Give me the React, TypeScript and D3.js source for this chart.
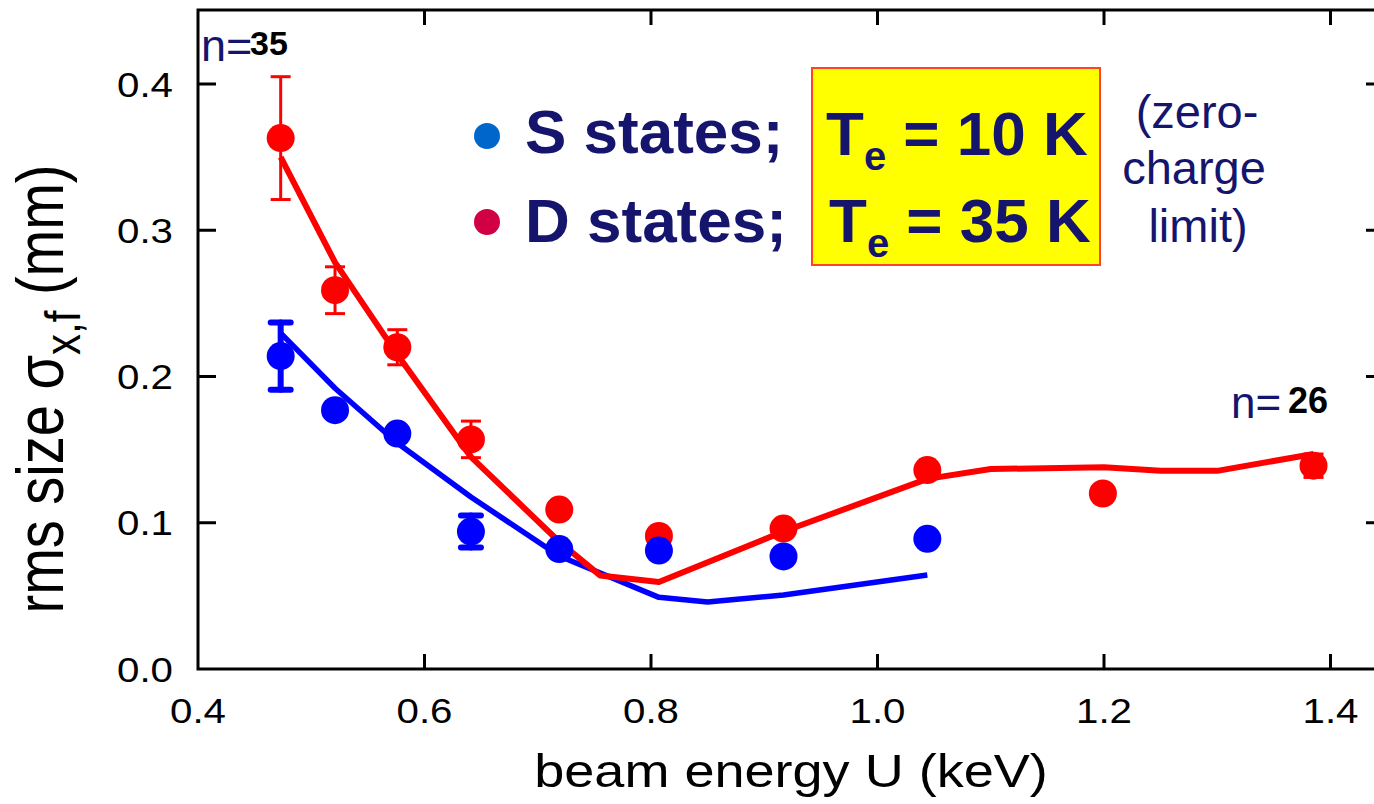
import React from "react";
import * as d3 from "d3";

// ---- data ----
const energyD = [0.473, 0.521, 0.576, 0.641, 0.719, 0.807, 0.917, 1.044, 1.199, 1.385];
const sizeD = [0.363, 0.259, 0.22, 0.157, 0.109, 0.091, 0.096, 0.136, 0.12, 0.139];
const errD = [0.042, 0.016, 0.012, 0.0125, 0, 0, 0, 0, 0, 0.008];

const energyS = [0.473, 0.521, 0.576, 0.641, 0.719, 0.807, 0.917, 1.044];
const sizeS = [0.214, 0.177, 0.161, 0.094, 0.082, 0.081, 0.077, 0.089];
const errS = [0.023, 0, 0, 0.011, 0, 0, 0, 0];

const modelEnergyD = [0.473, 0.521, 0.576, 0.641, 0.719, 0.755, 0.807, 0.917, 1.044, 1.1, 1.2, 1.25, 1.3, 1.385];
const modelSizeD = [0.35, 0.278, 0.215, 0.145, 0.087, 0.064, 0.0595, 0.094, 0.13, 0.1367, 0.138, 0.1355, 0.1355, 0.147];

const modelEnergyS = [0.473, 0.521, 0.576, 0.641, 0.719, 0.807, 0.85, 0.917, 1.044];
const modelSizeS = [0.2297, 0.192, 0.1545, 0.1176, 0.0773, 0.049, 0.0458, 0.0506, 0.0643];

const xTicks = [0.4, 0.6, 0.8, 1.0, 1.2, 1.4];
const yTicks = [0.0, 0.1, 0.2, 0.3, 0.4];

const FONT = "'Liberation Sans', Arial, sans-serif";
const NAVY = "#15156e";
const STRETCH = 1.15;

export default function App() {
  const W = 1374, H = 804;
  const x = d3.scaleLinear().domain([0.4, 1.4]).range([198, 1330.5]);
  const y = d3.scaleLinear().domain([0, 0.4]).range([669, 84]);
  const xRight = x(1.4446);
  const yTop = y(0.4506);

  const line = d3
    .line<[number, number]>()
    .x((d) => x(d[0]))
    .y((d) => y(d[1]));
  const pathD = line(modelEnergyD.map((e, i) => [e, modelSizeD[i]]))!;
  const pathS = line(modelEnergyS.map((e, i) => [e, modelSizeS[i]]))!;

  const tickLen = 15;

  return (
    <svg
      width={W}
      height={H}
      style={{ position: "absolute", left: 0, top: 0, background: "#fff" }}
      fontFamily={FONT}
    >
      {/* model curves */}
      <path d={pathS} fill="none" stroke="#0000ff" strokeWidth={5.5} strokeLinejoin="round" />
      <path d={pathD} fill="none" stroke="#ff0000" strokeWidth={6} strokeLinejoin="round" />

      {/* D error bars */}
      {energyD.map((e, i) =>
        errD[i] > 0 ? (
          <g key={"ed" + i} stroke="#ff0000" strokeWidth={3}>
            <line x1={x(e)} x2={x(e)} y1={y(sizeD[i] - errD[i])} y2={y(sizeD[i] + errD[i])} />
            <line x1={x(e) - 10} x2={x(e) + 10} y1={y(sizeD[i] + errD[i])} y2={y(sizeD[i] + errD[i])} />
            <line x1={x(e) - 10} x2={x(e) + 10} y1={y(sizeD[i] - errD[i])} y2={y(sizeD[i] - errD[i])} />
          </g>
        ) : null
      )}
      {/* S error bars */}
      {energyS.map((e, i) =>
        errS[i] > 0 ? (
          <g key={"es" + i} stroke="#0000ff" strokeWidth={6} strokeLinecap="round">
            <line x1={x(e)} x2={x(e)} y1={y(sizeS[i] - errS[i])} y2={y(sizeS[i] + errS[i])} />
            <line x1={x(e) - 10} x2={x(e) + 10} y1={y(sizeS[i] + errS[i])} y2={y(sizeS[i] + errS[i])} />
            <line x1={x(e) - 10} x2={x(e) + 10} y1={y(sizeS[i] - errS[i])} y2={y(sizeS[i] - errS[i])} />
          </g>
        ) : null
      )}
      {/* markers */}
      {energyD.map((e, i) => (
        <circle key={"pd" + i} cx={x(e)} cy={y(sizeD[i])} r={14} fill="#ff0000" />
      ))}
      {energyS.map((e, i) => (
        <circle key={"ps" + i} cx={x(e)} cy={y(sizeS[i])} r={14} fill="#0000ff" />
      ))}

      {/* frame */}
      <rect x={198} y={yTop} width={xRight - 198} height={669 - yTop} fill="none" stroke="#000" strokeWidth={3} />
      {xTicks.slice(1).map((t) => (
        <g key={"xt" + t} stroke="#000" strokeWidth={3}>
          <line x1={x(t)} x2={x(t)} y1={669} y2={669 - tickLen} />
          <line x1={x(t)} x2={x(t)} y1={yTop} y2={yTop + tickLen} />
        </g>
      ))}
      {yTicks.slice(1).map((t) => (
        <g key={"yt" + t} stroke="#000" strokeWidth={3}>
          <line x1={198} x2={198 + 18} y1={y(t)} y2={y(t)} />
          <line x1={xRight} x2={xRight - 15} y1={y(t)} y2={y(t)} />
        </g>
      ))}
      {xTicks.map((t) => (
        <text
          key={"xl" + t}
          transform={`translate(${x(t)},723) scale(${STRETCH},1)`}
          fontSize={35}
          textAnchor="middle"
          fill="#000"
        >
          {t.toFixed(1)}
        </text>
      ))}
      {yTicks.map((t) => (
        <text
          key={"yl" + t}
          transform={`translate(173,${y(t) + 12.5}) scale(${STRETCH},1)`}
          fontSize={35}
          textAnchor="end"
          fill="#000"
        >
          {t.toFixed(1)}
        </text>
      ))}

      {/* axis titles */}
      <text
        transform={`translate(791,787) scale(${STRETCH},1)`}
        fontSize={47}
        textAnchor="middle"
        fill="#000"
      >
        beam energy U (keV)
      </text>
      <text
        transform={`translate(63,389) rotate(-90) scale(1,1.2)`}
        fontSize={56}
        textAnchor="middle"
        fill="#000"
      >
        rms size σ
        <tspan fontSize={42} dy={14}>x,f</tspan>
        <tspan dy={-14}> (mm)</tspan>
      </text>

      {/* n labels */}
      <text x={201} y={61} fontSize={45} fill={NAVY}>n=</text>
      <text x={250} y={55} fontSize={34} fontWeight="bold" fill="#000">35</text>
      <text x={1231} y={418} fontSize={44} fill={NAVY}>n=</text>
      <text x={1288} y={413} fontSize={36} fontWeight="bold" fill="#000">26</text>

      {/* legend */}
      <circle cx={487} cy={136} r={13} fill="#0066cc" />
      <circle cx={487} cy={222} r={13} fill="#d10045" />
      <text x={525} y={153} fontSize={62} fontWeight="bold" fill={NAVY}>S states;</text>
      <text x={525} y={242} fontSize={62} fontWeight="bold" fill={NAVY}>D states;</text>

      <rect x={812} y={68} width={288} height={197} fill="#ffff00" stroke="#ff4422" strokeWidth={2} />
      <text x={826} y={155} fontSize={62} fontWeight="bold" fill={NAVY}>
        T<tspan fontSize={40} dy={15}>e</tspan>
        <tspan dy={-15}> = 10 K</tspan>
      </text>
      <text x={829} y={242} fontSize={62} fontWeight="bold" fill={NAVY}>
        T<tspan fontSize={40} dy={15}>e</tspan>
        <tspan dy={-15}> = 35 K</tspan>
      </text>

      <g fontSize={47} fill={NAVY} textAnchor="middle">
        <text x={1197} y={128}>(zero-</text>
        <text x={1194} y={184}>charge</text>
        <text x={1198} y={242}>limit)</text>
      </g>
    </svg>
  );
}
